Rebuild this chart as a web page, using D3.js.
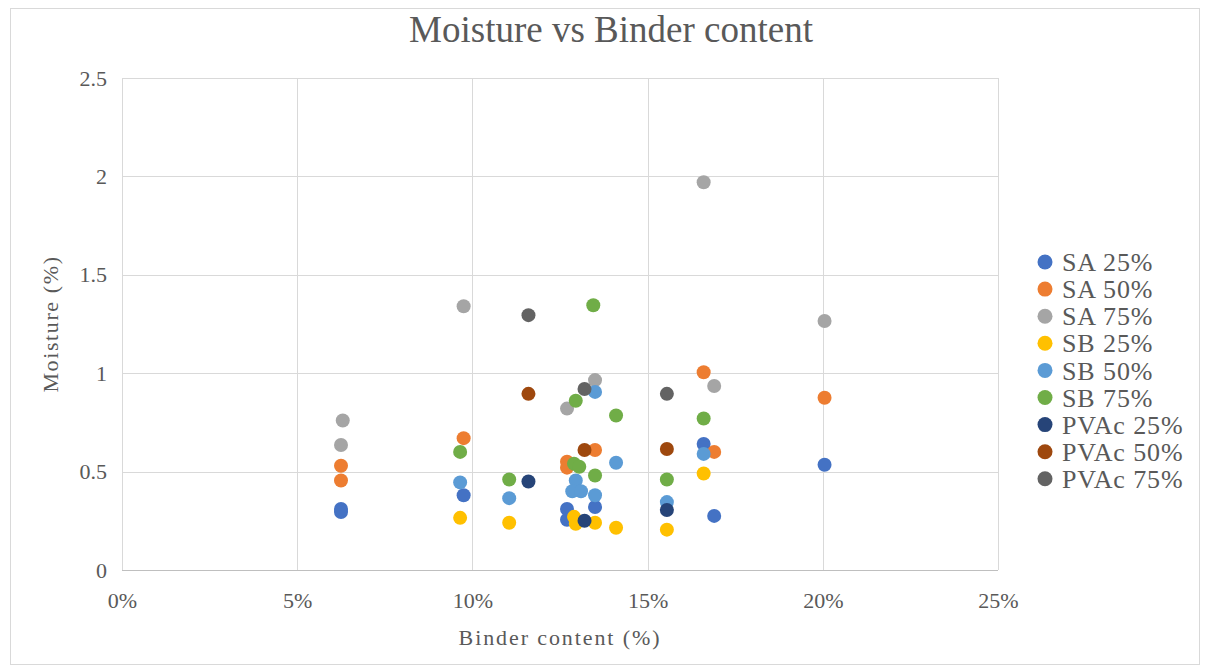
<!DOCTYPE html>
<html>
<head>
<meta charset="utf-8">
<script src="https://cdn.jsdelivr.net/npm/d3@7/dist/d3.min.js"></script>
<style>
  html, body { margin: 0; padding: 0; background: #ffffff; }
  svg { display: block; font-family: "Liberation Serif", "Times New Roman", serif; }
</style>
</head>
<body>
<svg id="chart" width="1209" height="672"></svg>
<script>
// Series names (legend order = draw order)
const seriesNames = ["SA 25%", "SA 50%", "SA 75%", "SB 25%", "SB 50%", "SB 75%", "PVAc 25%", "PVAc 50%", "PVAc 75%"];

// Binder content (%) and moisture (%) for each series
const saBinder25 = [6.25, 6.25, 9.75, 12.7, 12.7, 13.5, 16.6, 16.9, 20.05];
const saMoist25  = [0.31, 0.295, 0.38, 0.31, 0.255, 0.32, 0.64, 0.275, 0.535];

const saBinder50 = [6.25, 6.25, 9.75, 12.7, 12.7, 13.5, 16.6, 16.9, 20.05];
const saMoist50  = [0.53, 0.455, 0.67, 0.55, 0.52, 0.61, 1.005, 0.60, 0.875];

const saBinder75 = [6.3, 6.25, 9.75, 12.7, 13.5, 16.6, 16.9, 20.05];
const saMoist75  = [0.76, 0.635, 1.34, 0.82, 0.965, 1.97, 0.935, 1.265];

const sbBinder25 = [9.65, 11.05, 12.9, 12.95, 13.5, 14.1, 15.55, 16.6];
const sbMoist25  = [0.265, 0.24, 0.27, 0.235, 0.24, 0.215, 0.205, 0.49];

const sbBinder50 = [9.65, 11.05, 12.95, 12.85, 13.1, 13.5, 13.5, 14.1, 15.55, 16.6];
const sbMoist50  = [0.445, 0.365, 0.455, 0.40, 0.40, 0.38, 0.905, 0.545, 0.345, 0.59];

const sbBinder75 = [9.65, 11.05, 12.9, 13.05, 12.95, 13.45, 13.5, 14.1, 15.55, 16.6];
const sbMoist75  = [0.60, 0.46, 0.54, 0.525, 0.86, 1.345, 0.48, 0.785, 0.46, 0.77];

const pvBinder25 = [11.6, 13.2, 15.55];
const pvMoist25  = [0.45, 0.25, 0.305];

const pvBinder50 = [11.6, 13.2, 15.55];
const pvMoist50  = [0.895, 0.61, 0.615];

const pvBinder75 = [11.6, 13.2, 15.55];
const pvMoist75  = [1.295, 0.92, 0.895];

// Axis ticks
const xTicks = [0, 5, 10, 15, 20, 25];
const yTicks = [0, 0.5, 1, 1.5, 2, 2.5];

// Office palette for the nine series
const colors = ["#4472C4", "#ED7D31", "#A5A5A5", "#FFC000", "#5B9BD5", "#70AD47", "#264478", "#9E480E", "#636363"];

const binders = [saBinder25, saBinder50, saBinder75, sbBinder25, sbBinder50, sbBinder75, pvBinder25, pvBinder50, pvBinder75];
const moists  = [saMoist25, saMoist50, saMoist75, sbMoist25, sbMoist50, sbMoist75, pvMoist25, pvMoist50, pvMoist75];

const series = seriesNames.map((name, i) => ({
  name,
  color: colors[i],
  points: binders[i].map((b, j) => ({ x: b, y: moists[i][j] }))
}));

const svg = d3.select("#chart");

// Outer chart frame
svg.append("rect")
  .attr("x", 10.5).attr("y", 8.5)
  .attr("width", 1189).attr("height", 656)
  .attr("fill", "#ffffff")
  .attr("stroke", "#d9d9d9").attr("stroke-width", 1);

const plot = { left: 122, right: 998, top: 78, bottom: 570 };

const x = d3.scaleLinear().domain([0, 25]).range([plot.left, plot.right]);
const y = d3.scaleLinear().domain([0, 2.5]).range([plot.bottom, plot.top]);

// Gridlines
const grid = svg.append("g");
grid.selectAll("line.v").data(xTicks).enter().append("line")
  .attr("x1", d => Math.round(x(d)) + 0.5).attr("x2", d => Math.round(x(d)) + 0.5)
  .attr("y1", plot.top).attr("y2", plot.bottom)
  .attr("stroke", "#d9d9d9").attr("stroke-width", 1);
grid.selectAll("line.h").data(yTicks).enter().append("line")
  .attr("x1", plot.left).attr("x2", plot.right)
  .attr("y1", d => Math.round(y(d)) + 0.5).attr("y2", d => Math.round(y(d)) + 0.5)
  .attr("stroke", d => d === 0 ? "#bfbfbf" : "#d9d9d9").attr("stroke-width", 1);

// Axes (labels only; lines come from the grid)
const xAxis = d3.axisBottom(x).tickValues(xTicks).tickFormat(d => d + "%").tickSize(0).tickPadding(22);
const yAxis = d3.axisLeft(y).tickValues(yTicks).tickFormat(d => String(d)).tickSize(0).tickPadding(15);

const gx = svg.append("g").attr("transform", `translate(0,${plot.bottom})`).call(xAxis);
const gy = svg.append("g").attr("transform", `translate(${plot.left},0)`).call(yAxis);
[gx, gy].forEach(g => {
  g.select(".domain").remove();
  g.selectAll("text")
    .attr("fill", "#595959")
    .style("font-family", '"Liberation Serif", "Times New Roman", serif')
    .style("font-size", "22px");
});

// Markers
series.forEach(s => {
  svg.append("g").selectAll("circle").data(s.points).enter().append("circle")
    .attr("cx", d => x(d.x))
    .attr("cy", d => y(d.y))
    .attr("r", 7)
    .attr("fill", s.color);
});

// Title
svg.append("text")
  .attr("x", 611).attr("y", 42)
  .attr("text-anchor", "middle")
  .attr("fill", "#595959")
  .style("font-size", "37px")
  .text("Moisture vs Binder content");

// Axis titles
svg.append("text")
  .attr("x", (plot.left + plot.right) / 2).attr("y", 645)
  .attr("text-anchor", "middle")
  .attr("fill", "#595959")
  .style("font-size", "22px")
  .style("letter-spacing", "1.9px")
  .text("Binder content (%)");

svg.append("text")
  .attr("transform", `translate(58,${(plot.top + plot.bottom) / 2}) rotate(-90)`)
  .attr("text-anchor", "middle")
  .attr("fill", "#595959")
  .style("font-size", "22px")
  .style("letter-spacing", "1.6px")
  .text("Moisture (%)");

// Legend
const legend = svg.append("g");
const legendRows = legend.selectAll("g").data(series).enter().append("g")
  .attr("transform", (d, i) => `translate(1045,${262 + i * 27.1})`);
legendRows.append("circle").attr("r", 7.5).attr("fill", d => d.color);
legendRows.append("text")
  .attr("x", 17).attr("dy", "0.35em")
  .attr("fill", "#595959")
  .style("font-size", "26px")
  .style("letter-spacing", "0.9px")
  .text(d => d.name);
</script>
</body>
</html>
